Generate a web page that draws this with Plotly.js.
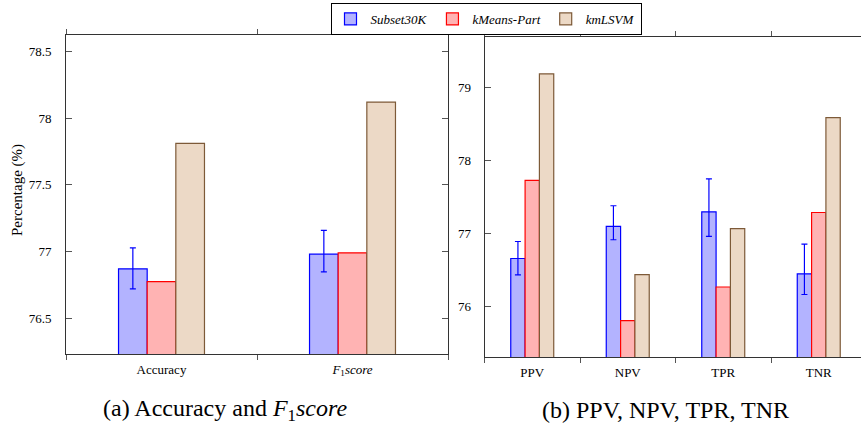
<!DOCTYPE html>
<html>
<head>
<meta charset="utf-8">
<script src="https://cdn.plot.ly/plotly-3.0.1.min.js"></script>
<style>
html, body { margin:0; padding:0; overflow:hidden; background:#fff; }
#chart { width:871px; height:430px; }
</style>
</head>
<body>
<div id="chart"></div>
<script>
// Panel (a)
const categoriesA = ['Accuracy', '<i>F</i><sub>1</sub><i>score</i>'];
const subsetA = [76.87, 76.98];
const subsetErrPlusA = [0.158, 0.178];
const subsetErrMinusA = [0.150, 0.133];
const kmeansA = [76.775, 76.99];
const kmlsvmA = [77.81, 78.12];

// Panel (b)
const categoriesB = ['PPV', 'NPV', 'TPR', 'TNR'];
const subsetB = [76.66, 77.10, 77.30, 76.45];
const subsetErrPlusB = [0.233, 0.283, 0.452, 0.406];
const subsetErrMinusB = [0.224, 0.183, 0.338, 0.283];
const kmeansB = [77.73, 75.81, 76.27, 77.29];
const kmlsvmB = [79.19, 76.44, 77.07, 78.59];

const seriesNames = ['Subset30K', 'kMeans-Part', 'kmLSVM'];
const captions = ['(a) Accuracy and <i>F</i><sub>1</sub><i>score</i>', '(b) PPV, NPV, TPR, TNR'];
const yTitle = 'Percentage (%)';

const fills = ['#b3b3ff', '#ffb3b3', '#ecd9c6'];
const edges = ['#0000ff', '#ff0000', '#7d5a38'];
const serif = 'Liberation Serif';

function barTrace(i, x, y, xa, ya, showlegend, err) {
  const t = {
    type: 'bar', x: x, y: y, xaxis: xa, yaxis: ya,
    name: '<i>' + seriesNames[i] + '</i>', legendgroup: 'g' + i, showlegend: showlegend,
    marker: { color: fills[i], line: { color: edges[i], width: 1.2 } },
    hoverinfo: 'skip'
  };
  if (err) {
    t.error_y = { type: 'data', symmetric: false, array: err[0], arrayminus: err[1],
                  color: '#0000ff', thickness: 1.2, width: 3 };
  }
  return t;
}

const data = [
  barTrace(0, categoriesA, subsetA, 'x', 'y', true, [subsetErrPlusA, subsetErrMinusA]),
  barTrace(1, categoriesA, kmeansA, 'x', 'y', true),
  barTrace(2, categoriesA, kmlsvmA, 'x', 'y', true),
  barTrace(0, categoriesB, subsetB, 'x2', 'y2', false, [subsetErrPlusB, subsetErrMinusB]),
  barTrace(1, categoriesB, kmeansB, 'x2', 'y2', false),
  barTrace(2, categoriesB, kmlsvmB, 'x2', 'y2', false)
];

const W = 871, H = 430;
const axisCommon = {
  showline: true, linecolor: '#333', linewidth: 1, mirror: 'ticks',
  showgrid: false, zeroline: false,
  tickfont: { family: serif, size: 13, color: '#000' }, tickcolor: '#555'
};

const layout = {
  width: W, height: H,
  margin: { l: 0, r: 0, t: 0, b: 0 },
  paper_bgcolor: '#fff', plot_bgcolor: '#fff',
  font: { family: serif, color: '#000' },
  barmode: 'group', bargap: 0.55, bargroupgap: 0,
  showlegend: true,
  legend: {
    orientation: 'h', x: 486 / W, xanchor: 'center', y: 1 - 3 / H, yanchor: 'top',
    bordercolor: '#000', borderwidth: 1, bgcolor: '#fff',
    font: { family: serif, size: 13, color: '#000' },
    tracegroupgap: 0, itemwidth: 30
  },
  xaxis: Object.assign({}, axisCommon, {
    domain: [66 / W, 448 / W], anchor: 'y', type: 'category',
    tickson: 'boundaries', ticks: 'outside', ticklen: 5, ticklabelstandoff: 3
  }),
  yaxis: Object.assign({}, axisCommon, {
    domain: [1 - 354 / H, 1 - 34.7 / H], anchor: 'x',
    range: [76.232, 78.625], tickvals: [76.5, 77, 77.5, 78, 78.5],
    ticktext: ['76.5', '77', '77.5', '78', '78.5'],
    ticks: 'inside', ticklen: 6, ticklabelstandoff: 11
  }),
  xaxis2: Object.assign({}, axisCommon, {
    domain: [484.5 / W, 866.5 / W], anchor: 'y2', type: 'category',
    tickson: 'boundaries', ticks: 'outside', ticklen: 5, ticklabelstandoff: 3
  }),
  yaxis2: Object.assign({}, axisCommon, {
    domain: [1 - 357.3 / H, 1 - 37.3 / H], anchor: 'x2',
    range: [75.307, 79.69], tickvals: [76, 77, 78, 79],
    ticks: 'inside', ticklen: 6, ticklabelstandoff: 10
  }),
  annotations: [
    { text: yTitle, xref: 'paper', yref: 'paper', x: 17 / W, y: 1 - 190 / H,
      textangle: -90, showarrow: false, xanchor: 'center', yanchor: 'middle',
      font: { family: serif, size: 15, color: '#000' } },
    { text: captions[0], xref: 'paper', yref: 'paper', x: 225 / W, y: 1 - 410 / H,
      showarrow: false, xanchor: 'center', yanchor: 'middle',
      font: { family: serif, size: 24, color: '#000' } },
    { text: captions[1], xref: 'paper', yref: 'paper', x: 665 / W, y: 1 - 410 / H,
      showarrow: false, xanchor: 'center', yanchor: 'middle',
      font: { family: serif, size: 24, color: '#000' } }
  ]
};

Plotly.newPlot('chart', data, layout, { displayModeBar: false, staticPlot: true });
</script>
</body>
</html>
